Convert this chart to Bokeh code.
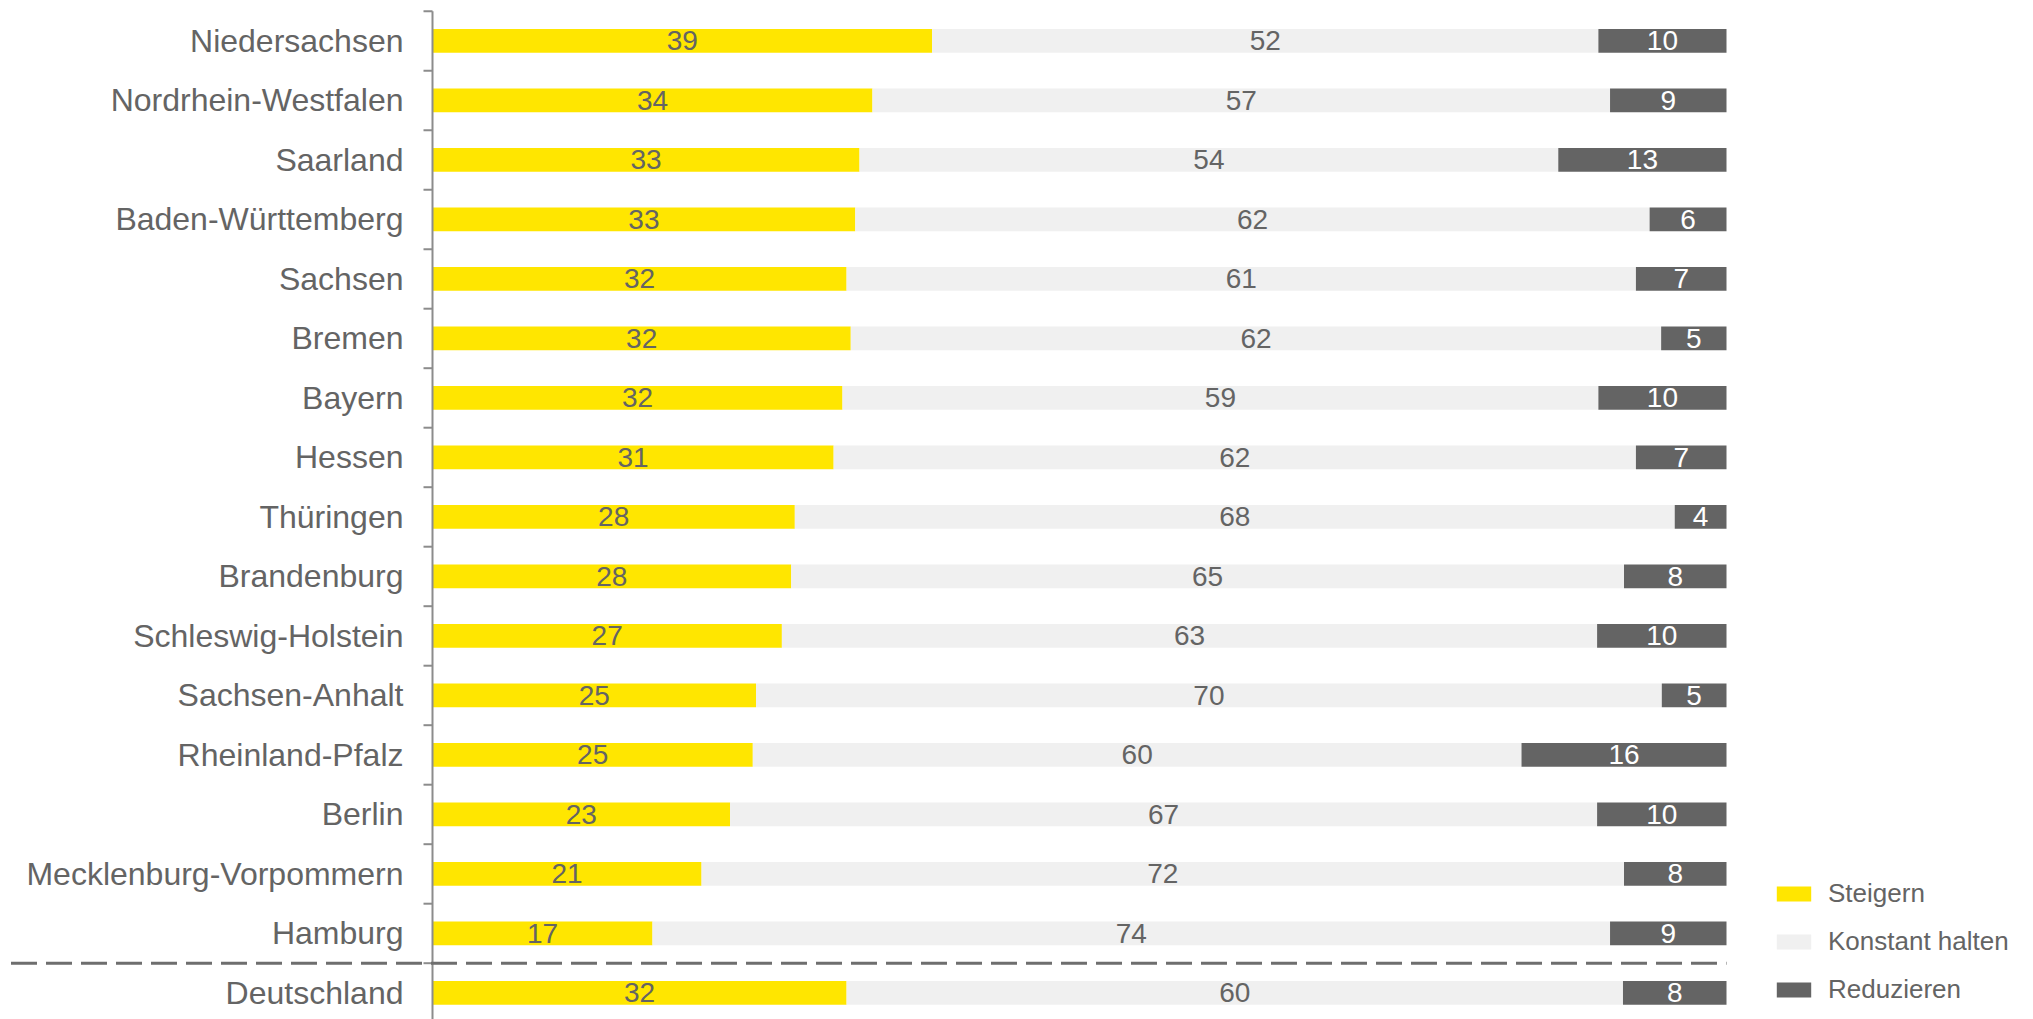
from bokeh.plotting import figure
from bokeh.models import Range1d, Legend, LegendItem, ColumnDataSource
from bokeh.embed import file_html
from bokeh.resources import INLINE
from bokeh.core.properties import value

# ---------------- data ----------------
states = ["Niedersachsen", "Nordrhein-Westfalen", "Saarland", "Baden-Württemberg",
          "Sachsen", "Bremen", "Bayern", "Hessen", "Thüringen", "Brandenburg",
          "Schleswig-Holstein", "Sachsen-Anhalt", "Rheinland-Pfalz", "Berlin",
          "Mecklenburg-Vorpommern", "Hamburg", "Deutschland"]
steigern = [39, 34, 33, 33, 32, 32, 32, 31, 28, 28, 27, 25, 25, 23, 21, 17, 32]
konstant = [52, 57, 54, 62, 61, 62, 59, 62, 68, 65, 63, 70, 60, 67, 72, 74, 60]
reduzieren = [10, 9, 13, 6, 7, 5, 10, 7, 4, 8, 10, 5, 16, 10, 8, 9, 8]
series_names = ["Steigern", "Konstant halten", "Reduzieren"]
series_colors = ["#FFE600", "#F0F0F0", "#646464"]
label_colors = ["#646464", "#646464", "#FFFFFF"]

# ---------------- layout constants ----------------
W, H = 2033, 1019
AXIS_PX = 432.0
FULL_PX = 1726.0
PXU = (FULL_PX - AXIS_PX) / 100.0
ROW_PX = 59.5
TOP_PX = 10.7
n = len(states)

FONT_NAME = "Liberation Sans"
FONT = value(FONT_NAME)
TEXT_GREY = "#646464"

x_range = Range1d(-AXIS_PX / PXU, (W - AXIS_PX) / PXU)
y_range = Range1d(n - (H - TOP_PX) / ROW_PX, n + TOP_PX / ROW_PX)

p = figure(width=W, height=H, x_range=x_range, y_range=y_range,
           output_backend="svg", toolbar_location=None, min_border=0,
           x_axis_location=None, y_axis_location=None,
           outline_line_color=None, background_fill_color="white",
           border_fill_color="white")
p.grid.visible = False

# ---------------- bars ----------------
ys = [n - i - 0.5 for i in range(n)]
tot = [a + b + c for a, b, c in zip(steigern, konstant, reduzieren)]
s_n = [a / t * 100 for a, t in zip(steigern, tot)]
k_n = [b / t * 100 for b, t in zip(konstant, tot)]
r_n = [c / t * 100 for c, t in zip(reduzieren, tot)]

src = ColumnDataSource(dict(y=ys, s=s_n, k=k_n, r=r_n))
rends = p.hbar_stack(["s", "k", "r"], y="y", height=0.4, color=series_colors,
                     line_color=None, source=src)

# ---------------- segment labels ----------------
centers = [
    [a / 2 for a in s_n],
    [a + b / 2 for a, b in zip(s_n, k_n)],
    [a + b + c / 2 for a, b, c in zip(s_n, k_n, r_n)],
]
raw = [steigern, konstant, reduzieren]
for cx, vals, col in zip(centers, raw, label_colors):
    p.text(x=cx, y=ys, text=[str(v) for v in vals], text_align="center",
           text_baseline="middle", text_font=FONT, text_font_size="28px",
           text_color=col)

# ---------------- category axis ----------------
p.segment(x0=[0], y0=[y_range.start], x1=[0], y1=[n], line_color="#8C8C8C",
          line_width=2)
bounds = list(range(1, n + 1))
p.segment(x0=[-9 / PXU] * len(bounds), y0=bounds, x1=[0] * len(bounds), y1=bounds,
          line_color="#8C8C8C", line_width=2)
p.text(x=[0] * n, y=ys, text=states, x_offset=-29, text_align="right",
       text_baseline="middle", text_font=FONT, text_font_size="32px",
       text_color=TEXT_GREY)

# dashed separator before the national total
p.segment(x0=[(10.5 - AXIS_PX) / PXU], y0=[1], x1=[100], y1=[1],
          line_color="#6E6E6E", line_width=3, line_dash="26 9")

# ---------------- legend ----------------
legend = Legend(items=[LegendItem(label=nm, renderers=[r]) for nm, r in zip(series_names, rends)],
                location=(1772, 14), orientation="vertical",
                padding=0, margin=0, spacing=17, label_standoff=13,
                glyph_width=43, glyph_height=19, label_height=30,
                label_text_font=FONT_NAME, label_text_font_size="26px",
                label_text_color=TEXT_GREY, border_line_color=None,
                background_fill_alpha=0)
p.add_layout(legend, "center")

open("out.html", "w").write(file_html(p, INLINE))
